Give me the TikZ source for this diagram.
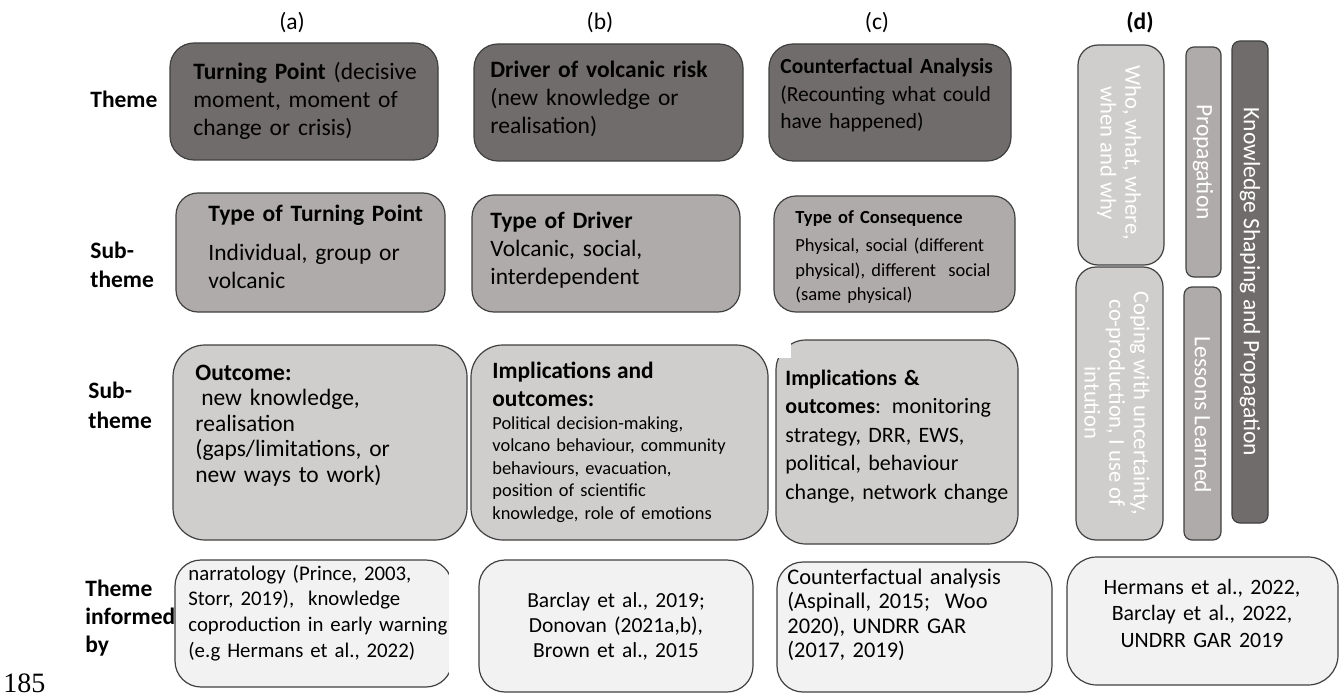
\documentclass[tikz,border=0pt]{standalone}
\usepackage{fontspec}
\setmainfont{Carlito}
\newfontfamily\serifnum{Liberation Serif}
\usepackage{tikz}
\usetikzlibrary{positioning}
\definecolor{themegray}{RGB}{112,108,107}
\definecolor{subgray}{RGB}{175,171,170}
\definecolor{outgray}{RGB}{208,206,205}
\definecolor{srcgray}{RGB}{242,242,242}
\definecolor{edgegray}{RGB}{64,64,64}
\tikzset{
  box/.style={draw=edgegray, line width=0.6pt, rounded corners=12pt},
  themebox/.style={box, fill=themegray},
  subbox/.style={box, fill=subgray, rounded corners=11pt},
  outbox/.style={box, fill=outgray, rounded corners=16pt},
  srcbox/.style={box, fill=srcgray, rounded corners=13pt},
  barbox/.style={box, rounded corners=4pt},
  txt/.style={anchor=base west, inner sep=0pt, text width=170pt, align=left},
  ctxt/.style={anchor=base, inner sep=0pt, text width=130pt, align=center},
  vtxt/.style={rotate=-90, inner sep=0pt, align=center, text=white},
  rowlab/.style={anchor=base west, inner sep=0pt, text width=60pt, align=left},
  collab/.style={anchor=base, inner sep=0pt, font=\fontsize{11.75}{14}\selectfont}
}

\begin{document}
\begin{tikzpicture}[x=0.5pt, y=-0.5pt]
    \useasboundingbox (0,0) rectangle (1342,700);
    \draw[themebox] (170,43) rectangle (438,160);
    \draw[themebox] (474,44) rectangle (743,161);
    \draw[themebox] (769,44) rectangle (1011,161);
    \draw[subbox] (176,193) rectangle (445,312);
    \draw[subbox] (472,195) rectangle (740,312);
    \draw[subbox] (774,196) rectangle (1015,312);
    \draw[outbox] (173,345) rectangle (467,540);
    \draw[outbox] (471,345) rectangle (768,540);
    \draw[outbox, rounded corners=15pt] (776,340) rectangle (1018,544);
    \fill[white] (771,336) rectangle (791,358);
    \draw[srcbox] (175,560) rectangle (452,687);
    \fill[white] (449,565) rectangle (458,675);
    \draw[srcbox] (479,560) rectangle (753,692);
    \draw[srcbox] (777,562) rectangle (1052,692);
    \draw[srcbox, rounded corners=15pt] (1067,557) rectangle (1338,685);
    \draw[outbox, rounded corners=10pt] (1078,45) rectangle (1164,265);
    \draw[outbox, rounded corners=10pt] (1076,267) rectangle (1163,540);
    \draw[barbox, fill=subgray] (1186,47) rectangle (1221,277);
    \draw[barbox, fill=subgray] (1184,287) rectangle (1221,540);
    \draw[barbox, fill=themegray] (1232,41) rectangle (1268,523);

    \node[collab] (ha) at (292,30) {(a)};
    \node[collab] (hb) at (600,30) {(b)};
    \node[collab] (hc) at (877,30) {(c)};
    \node[collab, font=\fontsize{11.75}{14}\selectfont\bfseries] (hd) at (1140,30) {(d)};

    \node[rowlab, font=\fontsize{11.75}{14.5}\selectfont\bfseries] (lTheme) at (90,108) {Theme};
    \node[rowlab, font=\fontsize{11.75}{14.5}\selectfont\bfseries] (lSub) at (90,258) {Sub-\\theme};
    \node[rowlab, font=\fontsize{11.75}{15}\selectfont\bfseries] (lSubB) at (88,398) {Sub-\\theme};
    \node[rowlab, font=\fontsize{11.75}{14}\selectfont\bfseries] (lInf) at (85,596) {Theme\\informed\\by};

    \node[txt, font=\fontsize{11.75}{14}\selectfont] (TP) at (193,80) {\textbf{Turning Point} (decisive\\moment, moment of\\change or crisis)};
    \node[txt, font=\fontsize{11.75}{14}\selectfont] (Drv) at (490,78) {\textbf{Driver of volcanic risk}\\(new knowledge or\\realisation)};
    \node[txt, font=\fontsize{10.75}{13.75}\selectfont] (CfA) at (780,74) {\textbf{Counterfactual Analysis}\\(Recounting what could\\have happened)};

    \node[txt, font=\fontsize{11.75}{14}\selectfont] (TypeTP) at (208,221) {\textbf{Type of Turning Point}\\[5.5pt]Individual, group or\\volcanic};
    \node[txt, font=\fontsize{11.75}{14}\selectfont] (TypeDrv) at (490,228) {\textbf{Type of Driver}\\Volcanic, social,\\interdependent};
    \node[txt, font=\fontsize{9.25}{12.5}\selectfont] (TypeCons) at (795,224) {\textbf{Type of Consequence}\\[1pt]Physical, social (different\\physical), different\ \ social\\(same physical)};

    \node[txt, font=\fontsize{11.75}{12.75}\selectfont] (Out) at (195,380) {\textbf{Outcome:}\\\hspace*{0.25em}new knowledge,\\realisation\\(gaps/limitations, or\\new ways to work)};
    \node[txt, font=\fontsize{9.2}{11.25}\selectfont] (ImpB) at (492,378) {{\fontsize{11.7}{14}\selectfont\bfseries Implications and}\\[2.75pt]{\fontsize{11.7}{14}\selectfont\bfseries outcomes:}\\[0.4pt]Political decision-making,\\volcano behaviour, community\\behaviours, evacuation,\\position of scientific\\knowledge, role of emotions};
    \node[txt, font=\fontsize{11}{14.25}\selectfont] (ImpC) at (785,385) {\textbf{Implications \&}\\\textbf{outcomes}: monitoring\\strategy, DRR, EWS,\\political, behaviour\\change, network change};

    \node[txt, font=\fontsize{10.4}{12.85}\selectfont] (SrcA) at (188,580) {narratology (Prince, 2003,\\Storr, 2019),~ knowledge\\coproduction in early warning\\(e.g Hermans et al., 2022)};
    \node[ctxt, font=\fontsize{10.75}{12.5}\selectfont] (SrcB) at (616,607) {Barclay et al., 2019;\\Donovan (2021a,b),\\Brown et al., 2015};
    \node[txt, font=\fontsize{11.2}{12.25}\selectfont] (SrcC) at (787,584) {Counterfactual analysis\\(Aspinall, 2015;~ Woo\\2020), UNDRR GAR\\(2017, 2019)};
    \node[ctxt, font=\fontsize{10.95}{13.25}\selectfont] (SrcD) at (1202,594) {Hermans et al., 2022,\\Barclay et al., 2022,\\UNDRR GAR 2019};

    \node[vtxt, font=\fontsize{11.3}{12.3}\selectfont] (Who) at (1119,153) {Who, what, where,\\when and why};
    \node[vtxt, font=\fontsize{11.3}{12.3}\selectfont] (Cope) at (1117,403) {Coping with uncertainty,\\co-production, I use of\\intution};
    \node[vtxt, font=\fontsize{11.75}{14}\selectfont] (Prop) at (1203,162) {Propagation};
    \node[vtxt, font=\fontsize{11.75}{14}\selectfont] (Less) at (1203,415) {Lessons Learned};
    \node[vtxt, font=\fontsize{11.75}{14}\selectfont] (KSP) at (1250,282) {Knowledge Shaping and Propagation};

    \node[anchor=base west, inner sep=0pt, font=\serifnum\fontsize{14}{16}\selectfont] (pg) at (3,692) {185};
\end{tikzpicture}
\end{document}
